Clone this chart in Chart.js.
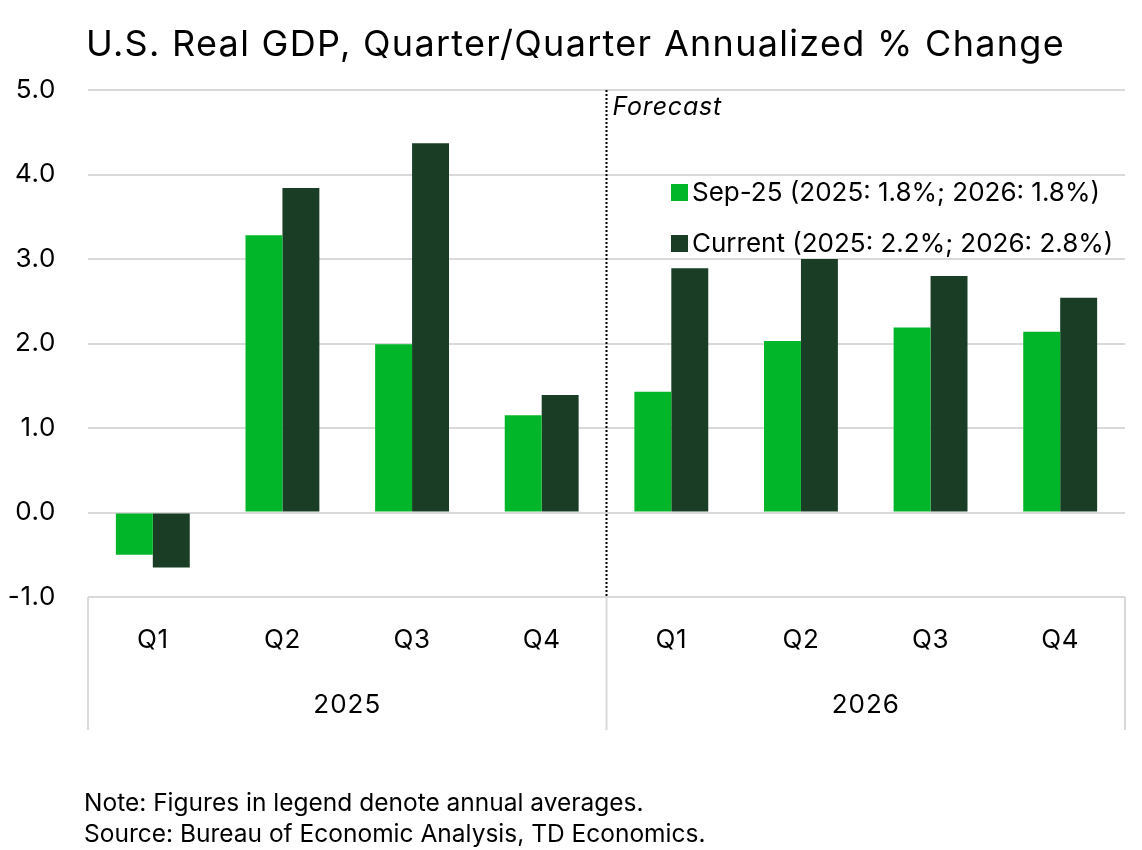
<!DOCTYPE html>
<html>
<head>
<meta charset="utf-8">
<script src="https://cdn.jsdelivr.net/npm/chart.js@4/dist/chart.umd.min.js"></script>
<style>
  body { margin: 0; background: #fff; }
  #wrap { position: relative; width: 1142px; height: 850px; font-family: Inter, "Noto Sans", sans-serif; color: #000; }
  #title { position: absolute; left: 86px; top: 21px; font-size: 36px; letter-spacing: 1.3px; white-space: nowrap; }
  .note { position: absolute; left: 84px; font-size: 24.5px; white-space: nowrap; }
  #cv { position: absolute; left: 0; top: 0; }
</style>
</head>
<body>
<div id="wrap">
  <canvas id="cv" width="1142" height="850"></canvas>
  <div id="title">U.S. Real GDP, Quarter/Quarter Annualized % Change</div>
  <div class="note" style="top:787px">Note: Figures in legend denote annual averages.</div>
  <div class="note" style="top:818px">Source: Bureau of Economic Analysis, TD Economics.</div>
</div>
<script>
// data
let quarters = ["Q1", "Q2", "Q3", "Q4", "Q1", "Q2", "Q3", "Q4"];
let years = ["2025", "2026"];
let sep25 = [-0.50, 3.28, 1.99, 1.15, 1.43, 2.03, 2.19, 2.14];
let current = [-0.65, 3.84, 4.37, 1.39, 2.89, 3.00, 2.80, 2.54];
let seriesNames = ["Sep-25 (2025: 1.8%; 2026: 1.8%)", "Current (2025: 2.2%; 2026: 2.8%)"];
let forecastStart = 4; // first forecast bar index

var FONT = "Inter, 'Noto Sans', sans-serif";
var gridColor = "#d9d9d9";

// dotted forecast line, year labels, separators and legend
var extras = {
  id: "extras",
  beforeDraw: function (chart) {
    chart.ctx.letterSpacing = "0.6px";
  },
  afterDraw: function (chart) {
    var ctx = chart.ctx;
    var x = chart.scales.x;
    var area = chart.chartArea;
    var per = quarters.length / years.length;
    var fx = (x.getPixelForValue(forecastStart - 1) + x.getPixelForValue(forecastStart)) / 2;

    ctx.save();
    // forecast line
    ctx.strokeStyle = "#000";
    ctx.lineWidth = 2;
    ctx.setLineDash([2, 2]);
    ctx.beginPath();
    ctx.moveTo(fx, area.top);
    ctx.lineTo(fx, area.bottom);
    ctx.stroke();
    ctx.setLineDash([]);

    ctx.fillStyle = "#000";
    ctx.font = "italic 25px " + FONT;
    ctx.letterSpacing = "0.8px";
    ctx.textBaseline = "middle";
    ctx.textAlign = "left";
    ctx.fillText("Forecast", fx + 6, area.top + 17);

    // group separators and year labels below the axis
    ctx.strokeStyle = gridColor;
    ctx.lineWidth = 2;
    for (var g = 0; g <= years.length; g++) {
      var sx = g == 0 ? area.left : (g == years.length ? area.right :
        (x.getPixelForValue(g * per - 1) + x.getPixelForValue(g * per)) / 2);
      ctx.beginPath();
      ctx.moveTo(sx, area.bottom);
      ctx.lineTo(sx, area.bottom + 133);
      ctx.stroke();
    }
    ctx.font = "26px " + FONT;
    ctx.letterSpacing = "1px";
    ctx.textAlign = "center";
    for (var i = 0; i < years.length; i++) {
      var cx = (x.getPixelForValue(i * per) + x.getPixelForValue(i * per + per - 1)) / 2;
      ctx.fillText(years[i], cx, area.bottom + 108);
    }

    // legend inside the plot
    ctx.textAlign = "left";
    ctx.letterSpacing = "0px";
    var lx = area.right - 454;
    var ly = area.top + 102;
    chart.data.datasets.forEach(function (ds, k) {
      ctx.fillStyle = ds.backgroundColor;
      ctx.fillRect(lx, ly + k * 51 - 8, 17, 17);
      ctx.fillStyle = "#000";
      ctx.fillText(ds.label, lx + 21, ly + k * 51 + 1);
    });
    ctx.restore();
  }
};

var chart = new Chart(document.getElementById("cv"), {
  type: "bar",
  data: {
    labels: quarters,
    datasets: [
      { label: seriesNames[0], data: sep25, backgroundColor: "#02b62a" },
      { label: seriesNames[1], data: current, backgroundColor: "#1a3d25" }
    ]
  },
  options: {
    responsive: false,
    animation: false,
    layout: { padding: { top: 90, left: 0, right: 17, bottom: 0 } },
    categoryPercentage: 0.57,
    barPercentage: 1.0,
    plugins: {
      legend: { display: false },
      tooltip: { enabled: false }
    },
    scales: {
      x: {
        grid: { display: false, drawTicks: false },
        border: { display: false },
        ticks: { color: "#000", font: { family: FONT, size: 26 }, padding: 28 },
        afterFit: function (s) { s.height = 253; }
      },
      y: {
        min: -1, max: 5,
        grid: { color: gridColor, lineWidth: 2, drawTicks: false },
        border: { display: false },
        ticks: {
          stepSize: 1,
          color: "#000",
          font: { family: FONT, size: 26 },
          padding: 32,
          callback: function (v) { return v.toFixed(1); }
        },
        afterFit: function (s) { s.width = 88; }
      }
    }
  },
  plugins: [extras]
});
</script>
</body>
</html>
